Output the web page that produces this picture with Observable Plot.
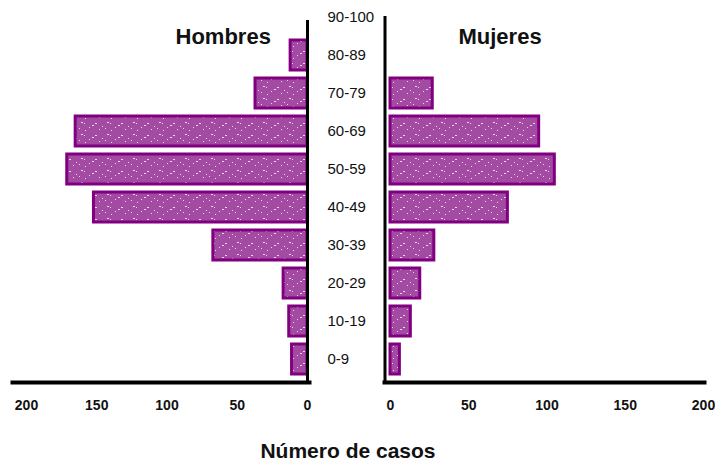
<!DOCTYPE html>
<html>
<head>
<meta charset="utf-8">
<script src="https://cdn.jsdelivr.net/npm/d3@7"></script>
<script src="https://cdn.jsdelivr.net/npm/@observablehq/plot@0.6"></script>
<style>
  body { margin: 0; background: white; font-family: "Liberation Sans", Arial, sans-serif; }
  #wrap { position: relative; width: 715px; height: 463px; overflow: hidden; }
  #left, #right { position: absolute; top: 0; }
  #left { left: 0; }
  #right { left: 360px; }
  #xtitle { position: absolute; left: 0; width: 696px; top: 441px; text-align: center; line-height: 20px;
            font-weight: bold; font-size: 21px; font-family: "Liberation Sans", Arial, sans-serif; color: #111; }
</style>
</head>
<body>
<div id="wrap">
  <div id="left"></div>
  <div id="right"></div>
  <div id="xtitle">Número de casos</div>
</div>
<script>
// Age groups, top to bottom
const ages = ["90-100", "80-89", "70-79", "60-69", "50-59", "40-49", "30-39", "20-29", "10-19", "0-9"];
// Cases per age group (same order as ages)
const hombres = [0, 12, 37, 165, 171, 152, 67, 17, 13, 11];
const mujeres = [0, 0, 27, 95, 105, 75, 28, 19, 13, 6];
const ticksLeft = [200, 150, 100, 50, 0];
const ticksRight = [0, 50, 100, 150, 200];

const menData = ages.map((a, i) => ({age: a, value: hombres[i]})).filter(d => d.value > 0);
const womenData = ages.map((a, i) => ({age: a, value: mujeres[i]})).filter(d => d.value > 0);

const H = 463;
const font = '"Liberation Sans", Arial, sans-serif';

function addPattern(svg, id) {
  const defs = d3.select(svg).insert("defs", ":first-child");
  const p = defs.append("pattern").attr("id", id).attr("patternUnits", "userSpaceOnUse")
    .attr("width", 26).attr("height", 12);
  p.append("rect").attr("width", 26).attr("height", 12).attr("fill", "#a34ba3");
  [[3,2,2,1],[6,3,1,1],[11,7,1,1],[17,3,2,1],[21,9,1,1],[7,10,1,1],[14,5,2,1],[24,6,1,1],[1,8,1,1]]
    .forEach(([x,y,w,h]) => p.append("rect").attr("x", x).attr("y", y).attr("width", w).attr("height", h).attr("fill", "#fff").attr("opacity", 0.8));
}

const yScale = {domain: ages, range: [0, 376], paddingInner: 0.2, paddingOuter: 0.02};

const left = Plot.plot({
  width: 380, height: H,
  marginTop: 20, marginBottom: H - 382, marginLeft: 12, marginRight: 380 - 309,
  style: {fontFamily: font, fontSize: "15px", color: "#111", background: "transparent", overflow: "visible"},
  x: {domain: [200, 0], range: [26, 307]},
  y: yScale,
  marks: [
    Plot.barX(menData, {x: "value", y: "age", fill: "url(#speckL)", stroke: "#800080", strokeWidth: 3}),
    Plot.ruleX([0], {stroke: "black", strokeWidth: 3, insetBottom: -2}),
    Plot.frame({anchor: "bottom", stroke: "black", strokeWidth: 4}),
    Plot.axisY({anchor: "right", tickSize: 0, tickPadding: 18, fontSize: 15, label: null}),
    Plot.axisX({ticks: ticksLeft, tickSize: 0, tickPadding: 18, fontSize: 14, fontWeight: "bold", label: null}),
    Plot.text(["Hombres"], {x: [60], frameAnchor: "top", dy: 8, fontSize: 22, fontWeight: "bold", fill: "#111"})
  ]
});
addPattern(left, "speckL");
document.getElementById("left").appendChild(left);

const right = Plot.plot({
  width: 355, height: H,
  marginTop: 16, marginBottom: H - 382, marginLeft: 24, marginRight: 11,
  style: {fontFamily: font, fontSize: "15px", color: "#111", background: "transparent", overflow: "visible"},
  x: {domain: [0, 200], range: [30, 343]},
  y: {...yScale, axis: null},
  marks: [
    Plot.barX(womenData, {x: "value", y: "age", fill: "url(#speckR)", stroke: "#800080", strokeWidth: 3}),
    Plot.ruleX([0], {stroke: "black", strokeWidth: 3, dx: -5.5, insetBottom: -2}),
    Plot.frame({anchor: "bottom", stroke: "black", strokeWidth: 4}),
    Plot.axisX({ticks: ticksRight, tickSize: 0, tickPadding: 18, fontSize: 14, fontWeight: "bold", label: null}),
    Plot.text(["Mujeres"], {x: [70], frameAnchor: "top", dy: 12, fontSize: 22, fontWeight: "bold", fill: "#111"})
  ]
});
addPattern(right, "speckR");
document.getElementById("right").appendChild(right);
</script>
</body>
</html>
